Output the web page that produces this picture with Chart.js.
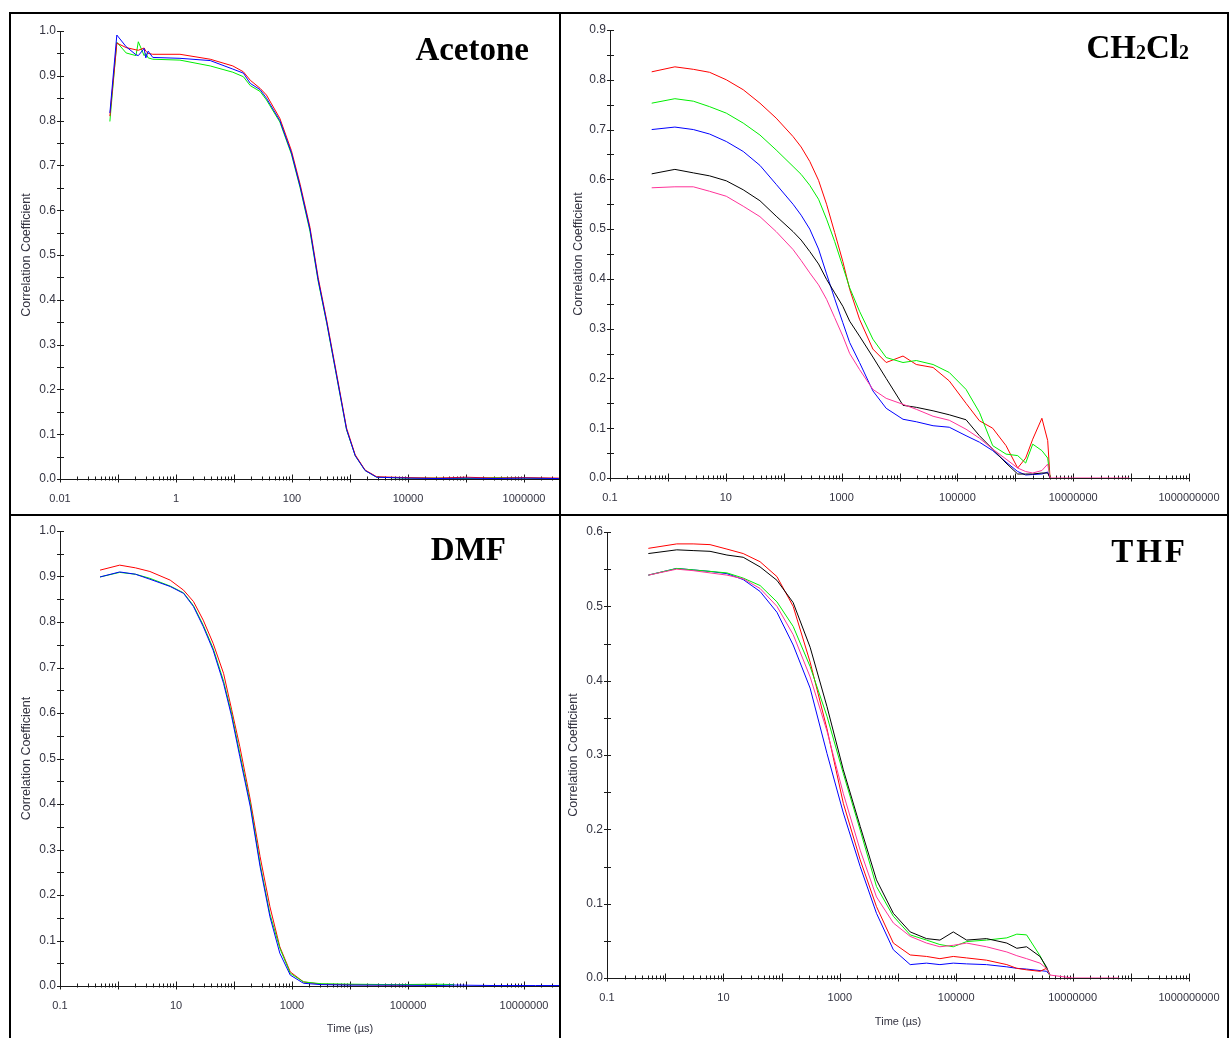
<!DOCTYPE html>
<html><head><meta charset="utf-8">
<script src="https://cdn.jsdelivr.net/npm/chart.js@4.4.0/dist/chart.umd.min.js"></script>
<style>
html,body{margin:0;padding:0;background:#fff;}
body{width:1231px;height:1038px;overflow:hidden;position:relative;font-family:'Liberation Sans',Arial,sans-serif;}
.panel{position:absolute;overflow:hidden;}
.panel canvas{position:absolute;left:0;top:0;}
.line{position:absolute;background:#000;}
.ttl{position:absolute;font-family:'Liberation Serif','Times New Roman',serif;font-weight:bold;font-size:33px;line-height:33px;color:#000;white-space:nowrap;text-align:right;}
.ttl .sub{font-size:20px;position:relative;top:1px;}
</style></head><body>
<div class="panel" style="left:11px;top:14px;width:548px;height:500px"><canvas id="c1" width="700" height="501" style="left:-1px;top:-1px"></canvas></div>
<div class="panel" style="left:561px;top:14px;width:666px;height:500px"><canvas id="c2" width="672" height="501" style="left:1px;top:-1px"></canvas></div>
<div class="panel" style="left:11px;top:516px;width:548px;height:522px"><canvas id="c3" width="700" height="521" style="left:-1px;top:1px"></canvas></div>
<div class="panel" style="left:561px;top:516px;width:666px;height:522px"><canvas id="c4" width="672" height="521" style="left:1px;top:1px"></canvas></div>

<div class="line" style="left:9px;top:12px;width:1220px;height:2px"></div>
<div class="line" style="left:9px;top:12px;width:2px;height:1026px"></div>
<div class="line" style="left:1227px;top:12px;width:2px;height:1026px"></div>
<div class="line" style="left:559px;top:12px;width:2px;height:1026px"></div>
<div class="line" style="left:9px;top:514px;width:1220px;height:2px"></div>

<div class="ttl" style="right:702px;top:33px">Acetone</div>
<div class="ttl" style="right:42px;top:31px">CH<span class="sub">2</span>Cl<span class="sub">2</span></div>
<div class="ttl" style="right:725px;top:533px">DMF</div>
<div class="ttl" style="right:43px;top:535px;letter-spacing:3px">THF</div>

<script>
// ---------- Acetone ----------
const acetoneTime = [0.0724, 0.0955, 0.138, 0.204, 0.224, 0.282, 0.302, 0.331, 0.398, 1.17, 3.89, 9.55, 14.5, 19.1, 28.2, 36.3, 61.7, 97.7, 138, 204, 282, 398, 589, 871, 1230, 1820, 2880, 10000, 31600, 100000, 316000, 1000000, 3980000, 10000000];
const acetoneRed   = [0.81, 0.973, 0.963, 0.958, 0.957, 0.962, 0.955, 0.95, 0.948, 0.948, 0.937, 0.922, 0.909, 0.89, 0.872, 0.857, 0.805, 0.733, 0.658, 0.562, 0.45, 0.353, 0.234, 0.114, 0.054, 0.02, 0.005, 0.003, 0.002, 0.004, 0.002, 0.003, 0.002, 0.002];
const acetoneGreen = [0.798, 0.975, 0.951, 0.945, 0.976, 0.945, 0.95, 0.94, 0.937, 0.935, 0.922, 0.908, 0.898, 0.878, 0.865, 0.846, 0.797, 0.725, 0.65, 0.553, 0.442, 0.347, 0.228, 0.11, 0.052, 0.019, 0.004, 0.002, 0.002, 0.001, 0.003, 0.002, 0.001, 0.001];
const acetoneBlue  = [0.817, 0.991, 0.965, 0.947, 0.945, 0.961, 0.94, 0.955, 0.941, 0.939, 0.934, 0.915, 0.906, 0.883, 0.869, 0.85, 0.80, 0.728, 0.653, 0.557, 0.445, 0.349, 0.23, 0.111, 0.052, 0.019, 0.004, 0.002, 0.001, 0.002, 0.001, 0.002, 0.001, 0.001];
const acetoneXLabels = ['0.01', '1', '100', '10000', '1000000', '100000000'];

// ---------- CH2Cl2 ----------
const dcmTime = [0.525, 1.32, 2.75, 5.25, 10.2, 20.0, 38.9, 74.1, 145, 200, 282, 400, 550, 760, 1050, 1380, 2040, 3470, 5890, 11500, 19500, 38000, 72400, 141000, 240000, 407000, 692000, 1100000, 1510000, 2000000, 2880000, 3630000, 3980000, 10000000, 31600000, 93300000];
const dcmRed   = [0.816, 0.826, 0.821, 0.815, 0.80, 0.78, 0.753, 0.723, 0.686, 0.665, 0.636, 0.598, 0.55, 0.493, 0.435, 0.379, 0.319, 0.259, 0.232, 0.245, 0.228, 0.222, 0.195, 0.15, 0.115, 0.1, 0.065, 0.02, 0.04, 0.078, 0.12, 0.075, 0, null, null, null];
const dcmGreen = [0.753, 0.762, 0.757, 0.746, 0.733, 0.713, 0.689, 0.659, 0.626, 0.61, 0.588, 0.56, 0.52, 0.475, 0.425, 0.382, 0.335, 0.279, 0.242, 0.232, 0.236, 0.228, 0.212, 0.178, 0.132, 0.065, 0.048, 0.045, 0.03, 0.068, 0.055, 0.04, 0, null, null, null];
const dcmBlue  = [0.70, 0.705, 0.70, 0.691, 0.676, 0.656, 0.628, 0.59, 0.55, 0.528, 0.50, 0.46, 0.41, 0.36, 0.312, 0.272, 0.232, 0.175, 0.14, 0.118, 0.113, 0.105, 0.102, 0.085, 0.072, 0.055, 0.032, 0.013, 0.006, 0.007, 0.008, 0.012, 0, null, null, null];
const dcmBlack = [0.611, 0.62, 0.613, 0.607, 0.597, 0.579, 0.557, 0.526, 0.495, 0.478, 0.455, 0.43, 0.399, 0.372, 0.345, 0.315, 0.285, 0.243, 0.2, 0.146, 0.142, 0.135, 0.127, 0.117, 0.085, 0.058, 0.03, 0.008, 0.008, 0.008, 0.01, 0.01, 0, null, null, null];
const dcmPink  = [0.583, 0.585, 0.585, 0.576, 0.566, 0.546, 0.525, 0.495, 0.459, 0.437, 0.412, 0.388, 0.359, 0.322, 0.285, 0.25, 0.218, 0.178, 0.16, 0.148, 0.138, 0.124, 0.116, 0.098, 0.08, 0.058, 0.038, 0.02, 0.013, 0.01, 0.015, 0.028, 0, 0, 0, 0];
const wideXLabels = ['0.1', '10', '1000', '100000', '10000000', '1000000000'];

// ---------- DMF ----------
const dmfTime = [0.49, 1.07, 2.0, 3.55, 7.94, 13.5, 20.0, 29.5, 43.7, 66.1, 91.2, 126, 191, 282, 417, 617, 933, 1580, 3160, 10000, 63100, 316000, 631000, 3160000, 15800000, 63100000];
const dmfRed   = [0.914, 0.925, 0.919, 0.911, 0.892, 0.870, 0.845, 0.804, 0.753, 0.687, 0.607, 0.526, 0.409, 0.284, 0.174, 0.086, 0.031, 0.009, 0.004, 0.003, 0.002, 0.003, null, null, null, null];
const dmfGreen = [0.899, 0.909, 0.905, 0.896, 0.879, 0.864, 0.836, 0.793, 0.742, 0.67, 0.598, 0.511, 0.40, 0.268, 0.158, 0.083, 0.028, 0.009, 0.005, 0.004, 0.003, 0.004, 0.003, null, null, null];
const dmfBlue  = [0.899, 0.910, 0.905, 0.894, 0.878, 0.863, 0.834, 0.79, 0.738, 0.665, 0.592, 0.504, 0.394, 0.262, 0.152, 0.072, 0.024, 0.006, 0.003, 0.002, 0.002, 0.001, 0.002, 0.001, 0.001, 0.001];

// ---------- THF ----------
const thfTime = [0.513, 1.58, 3.02, 5.89, 11.5, 21.9, 42.7, 83.2, 158, 309, 603, 1150, 2240, 4270, 8320, 16200, 30900, 52500, 89100, 151000, 331000, 741000, 1100000, 1620000, 2750000, 3550000, 4070000, 10000000, 25100000, 63100000];
const thfBlack = [0.571, 0.576, 0.575, 0.574, 0.569, 0.566, 0.553, 0.535, 0.505, 0.445, 0.365, 0.28, 0.204, 0.132, 0.087, 0.062, 0.053, 0.051, 0.062, 0.051, 0.053, 0.047, 0.04, 0.042, 0.029, 0.015, 0.004, null, null, null];
const thfRed   = [0.578, 0.584, 0.584, 0.583, 0.577, 0.571, 0.56, 0.54, 0.50, 0.425, 0.335, 0.235, 0.159, 0.096, 0.047, 0.031, 0.029, 0.026, 0.029, 0.027, 0.024, 0.018, 0.013, 0.011, 0.009, 0.013, 0.004, null, null, null];
const thfGreen = [0.542, 0.551, 0.549, 0.547, 0.545, 0.538, 0.528, 0.506, 0.473, 0.419, 0.352, 0.275, 0.199, 0.123, 0.083, 0.058, 0.051, 0.045, 0.042, 0.049, 0.051, 0.054, 0.059, 0.058, 0.03, 0.013, 0.003, null, null, null];
const thfPink  = [0.542, 0.55, 0.548, 0.545, 0.542, 0.537, 0.524, 0.5, 0.462, 0.405, 0.332, 0.248, 0.172, 0.109, 0.074, 0.056, 0.047, 0.042, 0.044, 0.047, 0.042, 0.035, 0.03, 0.026, 0.02, 0.013, 0.004, 0, 0, 0];
const thfBlue  = [0.542, 0.551, 0.549, 0.547, 0.544, 0.536, 0.52, 0.492, 0.448, 0.39, 0.302, 0.222, 0.15, 0.087, 0.038, 0.018, 0.02, 0.018, 0.02, 0.019, 0.018, 0.015, 0.013, 0.012, 0.01, 0.009, 0.004, null, null, null];

const yTitle = 'Correlation Coefficient';
const xTitle = 'Time (\u00b5s)';
const COLORS = { red:'#ff0000', green:'#00ee00', blue:'#0000ff', black:'#000000', pink:'#ff3399' };
const AXIS = '#1a1a1a';
const TXT = '#333340';

function logTicks(min, max) {
  const out = [];
  const e0 = Math.floor(Math.log10(min) + 1e-9), e1 = Math.ceil(Math.log10(max) - 1e-9);
  for (let e = e0; e <= e1; e++) {
    for (let m = 1; m <= 9; m++) {
      const v = m * Math.pow(10, e);
      if (v >= min * (1 - 1e-9) && v <= max * (1 + 1e-9)) out.push({ value: v, major: m === 1 });
    }
  }
  return out;
}
function yTicks(max) {
  const out = [];
  const n = Math.round(max / 0.05);
  for (let i = 0; i <= n; i++) out.push({ value: +(i * 0.05).toFixed(2) });
  return out;
}

const tickMarks = {
  id: 'tickMarks',
  beforeDatasetsDraw(chart) {
    const { ctx, chartArea, scales: { x, y } } = chart;
    ctx.save();
    ctx.strokeStyle = AXIS; ctx.lineWidth = 1;
    ctx.beginPath();
    x.ticks.forEach(t => {
      const px = Math.round(x.getPixelForValue(t.value)) + 0.5;
      if (px < chartArea.left - 1 || px > chartArea.right + 1) return;
      const lg = Math.log10(t.value);
      const major = Math.abs(lg - Math.round(lg)) < 1e-6;
      const yb = Math.round(chartArea.bottom) + 0.5;
      ctx.moveTo(px, yb - (major ? 5 : 3)); ctx.lineTo(px, yb + (major ? 3 : 1));
    });
    y.ticks.forEach(t => {
      const py = Math.round(y.getPixelForValue(t.value)) + 0.5;
      const xl = Math.round(chartArea.left);
      ctx.moveTo(xl - 3, py); ctx.lineTo(xl + 4, py);
    });
    ctx.stroke();
    ctx.restore();
  }
};

function makeChart(id, cfg) {
  const datasets = cfg.series.map(s => ({
    label: s.label,
    data: cfg.time.map((t, i) => ({ x: t, y: s.values[i] })),
    borderColor: s.color, backgroundColor: s.color,
    borderWidth: 1, pointRadius: 0, pointHoverRadius: 0, fill: false, tension: 0, spanGaps: false
  }));
  return new Chart(document.getElementById(id), {
    type: 'line',
    data: { datasets },
    options: {
      responsive: false, animation: false, devicePixelRatio: 1,
      layout: { padding: { left: 0, top: cfg.padTop, right: cfg.padRight, bottom: 0 } },
      plugins: { legend: { display: false }, tooltip: { enabled: false }, title: { display: false } },
      scales: {
        x: {
          type: 'logarithmic', position: 'bottom', min: cfg.xmin, max: cfg.xmax,
          afterBuildTicks: sc => { sc.ticks = logTicks(cfg.xmin, cfg.xmax); },
          afterFit: sc => { sc.height = cfg.xAxisH; },
          grid: { display: false, drawTicks: false, tickLength: 0 },
          border: { display: true, color: AXIS, width: 1 },
          ticks: {
            autoSkip: false, maxRotation: 0, minRotation: 0, padding: 13, color: TXT,
            font: { family: "'Liberation Sans', Arial, sans-serif", size: 11 },
            callback: v => {
              const lg = Math.log10(v);
              if (Math.abs(lg - Math.round(lg)) > 1e-6) return '';
              const s = cfg.xLabels.find(l => Math.abs(Math.log10(Number(l)) - lg) < 1e-6);
              return s || '';
            }
          },
          title: cfg.showXTitle ? {
            display: true, text: xTitle, color: TXT,
            font: { family: "'Liberation Sans', Arial, sans-serif", size: 11 },
            padding: { top: 0, bottom: cfg.xTitlePad }
          } : { display: false }
        },
        y: {
          type: 'linear', min: 0, max: cfg.ymax,
          afterBuildTicks: sc => { sc.ticks = yTicks(cfg.ymax); },
          afterFit: sc => { sc.width = cfg.yAxisW; },
          grid: { display: false, drawTicks: false, tickLength: 0 },
          border: { display: true, color: AXIS, width: 1 },
          ticks: {
            autoSkip: false, padding: 4, color: TXT,
            font: { family: "'Liberation Sans', Arial, sans-serif", size: 12 },
            callback: v => (Math.round(v * 100) % 10 === 0) ? v.toFixed(1) : ''
          },
          title: {
            display: true, text: yTitle, color: TXT,
            font: { family: "'Liberation Sans', Arial, sans-serif", size: 12.5 },
            padding: { top: cfg.yTitlePad, bottom: 0 }
          }
        }
      }
    },
    plugins: [tickMarks]
  });
}

makeChart('c1', {
  time: acetoneTime, xmin: 0.01, xmax: 1e8, ymax: 1.0, xLabels: acetoneXLabels,
  series: [
    { label: 'Blue', values: acetoneBlue, color: COLORS.blue },
    { label: 'Red', values: acetoneRed, color: COLORS.red },
    { label: 'Green', values: acetoneGreen, color: COLORS.green }
  ],
  padTop: 18, padRight: 70, xAxisH: 35, yAxisW: 50, yTitlePad: 9, showXTitle: false
});
makeChart('c2', {
  time: dcmTime, xmin: 0.1, xmax: 1e9, ymax: 0.9, xLabels: wideXLabels,
  series: [
    { label: 'Pink', values: dcmPink, color: COLORS.pink },
    { label: 'Black', values: dcmBlack, color: COLORS.black },
    { label: 'Blue', values: dcmBlue, color: COLORS.blue },
    { label: 'Green', values: dcmGreen, color: COLORS.green },
    { label: 'Red', values: dcmRed, color: COLORS.red }
  ],
  padTop: 17, padRight: 45, xAxisH: 36, yAxisW: 48, yTitlePad: 9, showXTitle: false
});
makeChart('c3', {
  time: dmfTime, xmin: 0.1, xmax: 1e9, ymax: 1.0, xLabels: wideXLabels,
  series: [
    { label: 'Blue', values: dmfBlue, color: COLORS.blue },
    { label: 'Green', values: dmfGreen, color: COLORS.green },
    { label: 'Red', values: dmfRed, color: COLORS.red }
  ],
  padTop: 14, padRight: 70, xAxisH: 52, yAxisW: 50, yTitlePad: 9, showXTitle: true, xTitlePad: 2
});
makeChart('c4', {
  time: thfTime, xmin: 0.1, xmax: 1e9, ymax: 0.6, xLabels: wideXLabels,
  series: [
    { label: 'Pink', values: thfPink, color: COLORS.pink },
    { label: 'Black', values: thfBlack, color: COLORS.black },
    { label: 'Green', values: thfGreen, color: COLORS.green },
    { label: 'Red', values: thfRed, color: COLORS.red },
    { label: 'Blue', values: thfBlue, color: COLORS.blue }
  ],
  padTop: 15, padRight: 45, xAxisH: 60, yAxisW: 45, yTitlePad: 4, showXTitle: true, xTitlePad: 9
});
</script>
</body></html>
